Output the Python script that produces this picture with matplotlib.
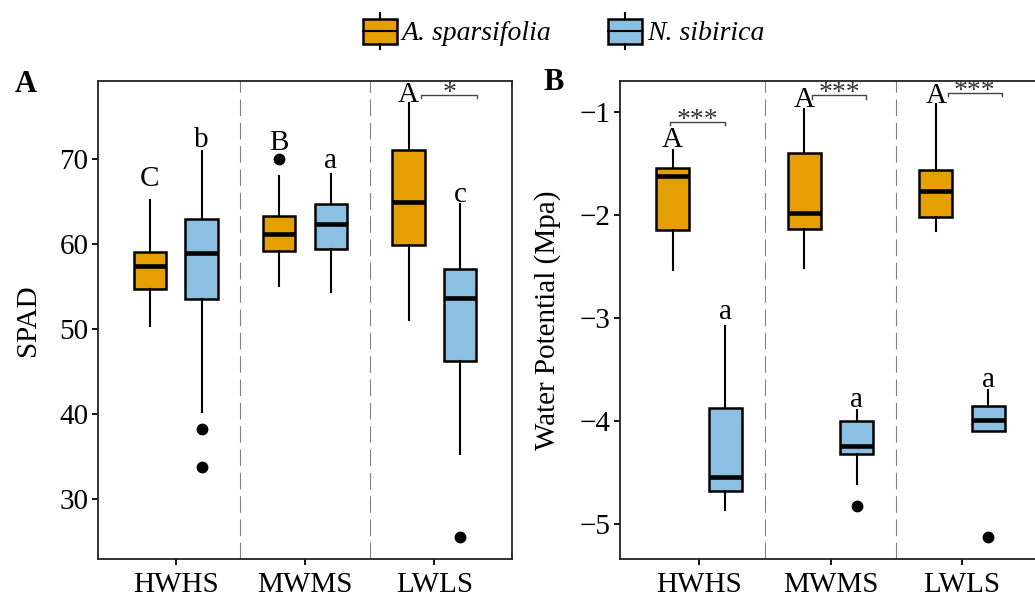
import matplotlib
matplotlib.use('Agg')
import matplotlib.pyplot as plt
from matplotlib.patches import Rectangle

plt.rcParams['font.family'] = ['Liberation Serif', 'DejaVu Serif']

# ---- data -------------------------------------------------------------
sites = ['HWHS', 'MWMS', 'LWLS']
species = ['A. sparsifolia', 'N. sibirica']
colors = ['#E69F00', '#8CC0E2']

# SPAD (panel A): whislo, q1, med, q3, whishi, fliers
spad_as = [
    (50.3, 54.7, 57.4, 59.1, 65.2, []),
    (55.0, 59.2, 61.2, 63.3, 68.0, [70.0]),
    (51.1, 59.9, 64.9, 71.1, 76.6, []),
]
spad_ns = [
    (40.2, 53.5, 58.9, 62.9, 70.9, [38.2, 33.7]),
    (54.4, 59.4, 62.4, 64.7, 68.2, []),
    (35.3, 46.2, 53.6, 57.0, 64.7, [25.5]),
]
# Water potential (panel B)
wp_as = [
    (-2.53, -2.15, -1.62, -1.54, -1.37, []),
    (-2.52, -2.14, -1.98, -1.40, -0.97, []),
    (-2.16, -2.02, -1.77, -1.56, -0.92, []),
]
wp_ns = [
    (-4.86, -4.68, -4.54, -3.87, -3.08, []),
    (-4.61, -4.32, -4.24, -4.00, -3.89, [-4.83]),
    (-4.10, -4.10, -3.99, -3.85, -3.70, [-5.13]),
]

# letter labels (text, baseline y)
spad_let_as = [('C', 66.8), ('B', 71.1), ('A', 76.7)]
spad_let_ns = [('b', 71.4), ('a', 68.9), ('c', 64.9)]
wp_let_as = [('A', -1.345), ('A', -0.95), ('A', -0.91)]
wp_let_ns = [('a', -3.01), ('a', -3.86), ('a', -3.67)]

# significance brackets: (site index, x0 offset, x1 offset, y, stars)
spad_sig = [(2, -0.10, 0.33, 77.5, '*')]
wp_sig = [(0, -0.22, 0.20, -1.10, '***'),
          (1, -0.14, 0.27, -0.84, '***'),
          (2, -0.11, 0.30, -0.82, '***')]

DODGE = 0.2
BOXW = 0.25
FS = 21


def stats(rows):
    return [dict(whislo=r[0], q1=r[1], med=r[2], q3=r[3], whishi=r[4],
                 fliers=r[5]) for r in rows]


def panel(ax, data_as, data_ns, let_as, let_ns, sig, ylim, yticks, ylabel, tick_dy):
    for d, data, col in [(-DODGE, data_as, colors[0]), (DODGE, data_ns, colors[1])]:
        pos = [i + 1 + d for i in range(len(sites))]
        ax.bxp(stats(data), positions=pos, widths=BOXW, patch_artist=True,
               showcaps=False,
               boxprops=dict(facecolor=col, edgecolor='black', linewidth=1.8),
               medianprops=dict(color='black', linewidth=3.3),
               whiskerprops=dict(color='black', linewidth=1.5),
               flierprops=dict(marker='o', markerfacecolor='black',
                               markeredgecolor='black', markersize=7.5))
    for x in [1.5, 2.5]:
        ax.axvline(x, color='#808080', linewidth=0.8, linestyle=(0, (15, 6)), zorder=0)
    for i, (t, y) in enumerate(let_as):
        ax.text(i + 1 - DODGE, y, t, ha='center', va='baseline', fontsize=FS)
    for i, (t, y) in enumerate(let_ns):
        ax.text(i + 1 + DODGE, y, t, ha='center', va='baseline', fontsize=FS)
    for i, x0, x1, y, s in sig:
        c = i + 1
        ax.plot([c + x0, c + x0, c + x1, c + x1], [y - tick_dy, y, y, y - tick_dy],
                color='#444444', linewidth=1.0)
        ax.text(c + (x0 + x1) / 2, y - tick_dy * 1.5, s, ha='center', va='baseline',
                fontsize=20, color='#333333')
    ax.set_xlim(0.4, 3.6)
    ax.set_ylim(*ylim)
    ax.set_xticks([1, 2, 3])
    ax.set_xticklabels(sites)
    ax.set_yticks(yticks)
    ax.set_yticklabels([f'{v:g}'.replace('-', '\u2212') for v in yticks])
    ax.set_ylabel(ylabel, fontsize=FS, labelpad=13)
    ax.tick_params(direction='out', length=4, width=1.3, labelsize=FS, colors='black',
                   pad=3)
    ax.tick_params(axis='x', pad=5)
    for s in ax.spines.values():
        s.set_linewidth(1.3)
        s.set_color('#222222')


fig = plt.figure(figsize=(10.35, 5.97), dpi=100)
W, H = 1035, 597
axA = fig.add_axes([98 / W, 1 - 559 / H, 414 / W, 478 / H])
axB = fig.add_axes([620 / W, 1 - 559 / H, 421 / W, 478 / H])

panel(axA, spad_as, spad_ns, spad_let_as, spad_let_ns, spad_sig,
      (22.9, 79.2), [30, 40, 50, 60, 70], 'SPAD', 0.35)
panel(axB, wp_as, wp_ns, wp_let_as, wp_let_ns, wp_sig,
      (-5.34, -0.70), [-5, -4, -3, -2, -1], 'Water Potential (Mpa)', 0.03)

fig.text(15 / W, 1 - 85 / H, 'A', fontsize=22, fontweight='bold', va='center')
fig.text(543 / W, 1 - 83 / H, 'B', fontsize=22, fontweight='bold', va='center')

# legend drawn in pixel space
lg = fig.add_axes([0, 0, 1, 1], zorder=5)
lg.set_xlim(0, W)
lg.set_ylim(H, 0)
lg.axis('off')
for x0, col, name in [(363, colors[0], species[0]), (608, colors[1], species[1])]:
    lg.plot([x0 + 17, x0 + 17], [12.5, 18.5], color='black', linewidth=1.5)
    lg.plot([x0 + 17, x0 + 17], [43.5, 49], color='black', linewidth=1.5)
    lg.add_patch(Rectangle((x0, 18.5), 34, 25, facecolor=col, edgecolor='black',
                           linewidth=1.8))
    lg.plot([x0, x0 + 34], [31, 31], color='black', linewidth=1.5)
    lg.text(x0 + 39, 33, name, fontsize=20, fontstyle='italic', va='center', ha='left')

fig.savefig('out.png', dpi=100)
